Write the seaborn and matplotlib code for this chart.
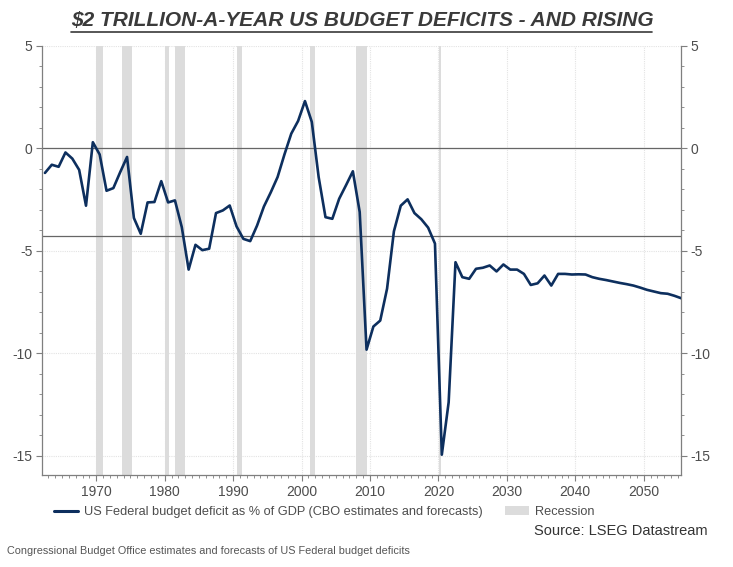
import numpy as np
import pandas as pd
import matplotlib
matplotlib.use("Agg")
import matplotlib.pyplot as plt
import seaborn as sns
from matplotlib.ticker import MultipleLocator
from matplotlib.patches import Patch
from matplotlib.lines import Line2D

years = list(range(1962, 2056))
deficit = [
    -1.2, -0.8, -0.9, -0.2, -0.5, -1.05, -2.8, 0.3, -0.3, -2.07,
    -1.94, -1.16, -0.42, -3.4, -4.17, -2.64, -2.62, -1.6, -2.64, -2.54,
    -3.85, -5.92, -4.71, -4.97, -4.9, -3.16, -3.03, -2.79, -3.81, -4.42,
    -4.53, -3.77, -2.84, -2.15, -1.4, -0.3, 0.72, 1.34, 2.31, 1.29,
    -1.4, -3.36, -3.44, -2.46, -1.8, -1.12, -3.11, -9.83, -8.7, -8.41,
    -6.85, -4.05, -2.8, -2.49, -3.16, -3.46, -3.87, -4.65, -14.96, -12.4,
    -5.56, -6.29, -6.37, -5.88, -5.83, -5.72, -6.01, -5.67, -5.92, -5.92,
    -6.13, -6.67, -6.59, -6.21, -6.7, -6.13, -6.13, -6.16, -6.15, -6.16,
    -6.29, -6.37, -6.43, -6.5, -6.57, -6.63, -6.7, -6.8, -6.91, -6.99,
    -7.07, -7.1, -7.2, -7.32,
]
recession_start = [1969.92, 1973.83, 1980.0, 1981.5, 1990.5, 2001.17, 2007.92, 2020.08]
recession_end = [1970.92, 1975.25, 1980.58, 1982.92, 1991.25, 2001.92, 2009.5, 2020.33]
y_ticks = [5, 0, -5, -10, -15]
x_ticks = [1970, 1980, 1990, 2000, 2010, 2020, 2030, 2040, 2050]

title = "$2 TRILLION-A-YEAR US BUDGET DEFICITS - AND RISING"
legend_labels = ["US Federal budget deficit as % of GDP (CBO estimates and forecasts)", "Recession"]
source = "Source: LSEG Datastream"
caption = "Congressional Budget Office estimates and forecasts of US Federal budget deficits"

# points sit mid-year on the time axis
df = pd.DataFrame({"year": np.array(years) + 0.5, "deficit": deficit})

sns.set_theme(style="white")
plt.rcParams["font.family"] = ["Liberation Sans", "DejaVu Sans"]
plt.rcParams["axes.unicode_minus"] = False

navy = "#0d2f5e"
grey_txt = "#4d4d4d"
band = "#dcdcdc"

fig = plt.figure(figsize=(7.33, 5.67), dpi=100)
ax = fig.add_axes([0.0573, 0.1623, 0.8717, 0.7566])

for s, e in zip(recession_start, recession_end):
    ax.axvspan(s, e, color=band, lw=0, zorder=1)

# zero line and long-run average
ax.axhline(0, color="#666666", lw=0.9, zorder=2)
ax.axhline(np.mean(deficit), color="#666666", lw=0.9, zorder=2)

sns.lineplot(data=df, x="year", y="deficit", color=navy, lw=1.9, ax=ax, zorder=3)

ax.set_xlim(1962.07, 2055.45)
ax.set_ylim(-15.95, 5)
ax.set_xticks(x_ticks)
ax.set_yticks(y_ticks)
ax.xaxis.set_minor_locator(MultipleLocator(1))
ax.yaxis.set_minor_locator(MultipleLocator(1))
ax.grid(True, which="major", color="#e3e3e3", lw=0.8, ls=(0, (1, 1)), zorder=0)
ax.set_axisbelow(True)
ax.set_xlabel("")
ax.set_ylabel("")

for side in ["left", "right", "bottom"]:
    ax.spines[side].set_visible(True)
    ax.spines[side].set_color("#7f7f7f")
    ax.spines[side].set_linewidth(0.9)
ax.spines["top"].set_visible(False)

ax.tick_params(axis="both", which="major", labelsize=10, labelcolor=grey_txt,
               color="#7f7f7f", length=4, width=0.8, direction="out", pad=3)
ax.tick_params(axis="both", which="minor", color="#7f7f7f", length=2, width=0.6,
               direction="out")
ax.tick_params(axis="y", which="both", left=True, right=True, labelleft=True, labelright=True)
ax.tick_params(axis="x", which="both", bottom=True, top=False)

fig.text(0.4945, 0.963, title, ha="center", va="center", fontsize=15,
         fontweight="bold", fontstyle="italic", color="#3a3a3a")
fig.add_artist(Line2D([0.097, 0.89], [0.944, 0.944], color="#3a3a3a", lw=1.2))

handles = [Line2D([0], [0], color=navy, lw=2.2),
           Patch(facecolor=band, edgecolor="none")]
fig.legend(handles, legend_labels, loc="center left", bbox_to_anchor=(0.058, 0.097), ncol=2,
           frameon=False, fontsize=9.2, handlelength=1.9, handletextpad=0.45,
           columnspacing=1.7, labelcolor=grey_txt)

fig.text(0.966, 0.063, source, ha="right", va="center", fontsize=10.5, color="#333333")
fig.text(0.009, 0.029, caption, ha="left", va="center", fontsize=7.8, color="#555555")

fig.savefig("out.png", dpi=100, facecolor="white")
